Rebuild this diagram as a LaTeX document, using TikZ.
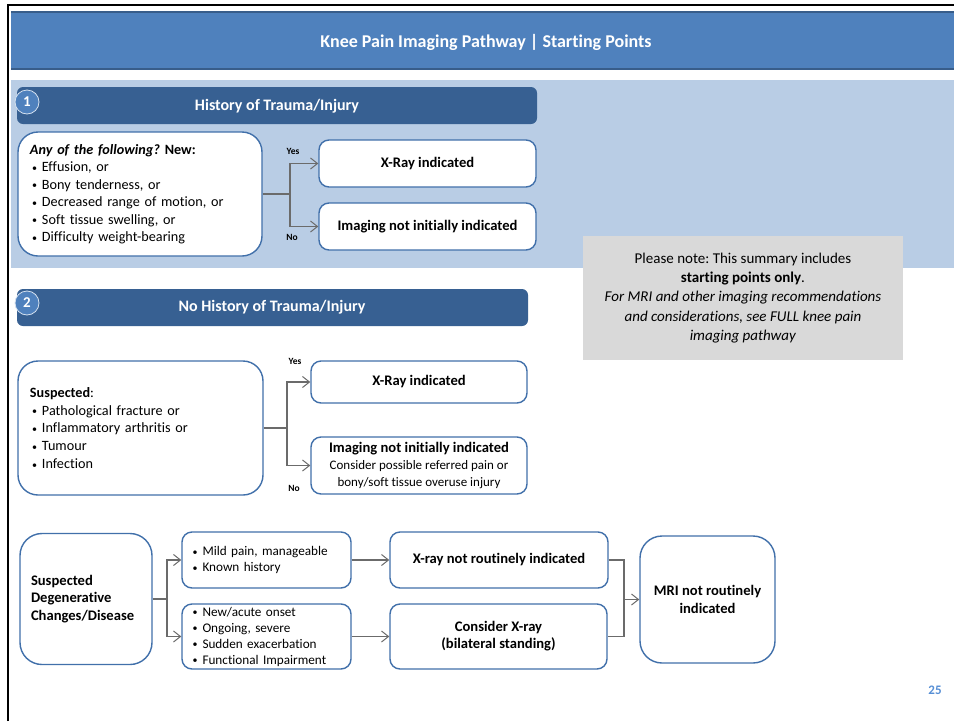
\documentclass[tikz,border=0pt]{standalone}
\usepackage{fontspec}
\setmainfont{Carlito}[Ligatures=NoCommon]
\usetikzlibrary{arrows.meta}
\frenchspacing

\definecolor{barblue}{HTML}{4F81BD}
\definecolor{baredge}{HTML}{385D8A}
\definecolor{secblue}{HTML}{376092}
\definecolor{bandblue}{HTML}{B9CDE5}
\definecolor{boxedge}{HTML}{4170AA}
\definecolor{linkgray}{HTML}{6B6B6B}
\definecolor{notegray}{HTML}{D9D9D9}
\definecolor{pagenum}{HTML}{558ED5}

\newcommand{\blt}{\makebox[10pt][l]{\raisebox{0.5pt}{\fontsize{10}{10}\selectfont•}}}
\newcommand{\smalltxt}{\fontsize{13}{15.5}\selectfont\mdseries}

\tikzset{
  box/.style={draw=boxedge, line width=1.4pt, fill=white, rounded corners=10pt,
    inner sep=0pt, align=center, font=\fontsize{14.6}{17}\selectfont\bfseries},
  bigbox/.style={draw=boxedge, line width=1.4pt, fill=white, rounded corners=20pt,
    inner xsep=12pt, inner ysep=0pt, align=left},
  secbar/.style={fill=secblue, rounded corners=6pt},
  sectitle/.style={text=white, font=\fontsize{16}{18}\selectfont\bfseries},
  numdot/.style={circle, fill=barblue, draw=bandblue!60!white, line width=0.8pt,
    minimum size=24pt, inner sep=0pt, text=white, font=\fontsize{15}{16}\selectfont\bfseries},
  link/.style={draw=linkgray, line width=1.2pt},
  arr/.style={link, -{Straight Barb[length=7pt,width=11pt,line width=1pt]}},
  yn/.style={font=\fontsize{9.5}{10}\selectfont\bfseries, inner sep=0pt},
}

\begin{document}
\begin{tikzpicture}[x=1pt, y=-1pt]
\useasboundingbox (0,0) rectangle (954,721);
\fill[white] (0,0) rectangle (954,721);

% page frame
\draw[black, line width=2pt] (8,721) -- (8,5) -- (954,5);

% title bar
\fill[barblue] (11,11) rectangle (954,70);
\draw[baredge, line width=2pt] (11,12) -- (954,12);
\draw[baredge, line width=2pt] (11,69) -- (954,69);
\node[text=white, font=\fontsize{18}{20}\selectfont\bfseries] (title) at (486,42)
  {Knee Pain Imaging Pathway | Starting Points};

% band behind section 1
\fill[bandblue] (11,80) rectangle (954,268);

% note box
\fill[notegray] (583,236) rectangle (903,360);
\node[align=center, font=\fontsize{15}{19.3}\selectfont] (note) at (743,298)
  {Please note: This summary includes\\
   \textbf{starting points only}.\\
   \textit{For MRI and other imaging recommendations}\\
   \textit{and considerations, see FULL knee pain}\\
   \textit{imaging pathway}};

% ---------- section 1: trauma ----------
\path[secbar] (17,87) rectangle (537,124);
\node[sectitle] (s1) at (277,106) {History of Trauma/Injury};
\node[numdot] (n1) at (27,102) {1};

\node[bigbox, minimum width=244pt, minimum height=124pt, text width=220pt,
      font=\fontsize{14.2}{17.5}\selectfont] (L1) at (140,194)
  {\textit{\textbf{Any of the following?}} \textbf{New:}\\
   \hspace{2pt}\blt Effusion, or\\
   \hspace{2pt}\blt Bony tenderness, or\\
   \hspace{2pt}\blt Decreased range of motion, or\\
   \hspace{2pt}\blt Soft tissue swelling, or\\
   \hspace{2pt}\blt Difficulty weight-bearing};

\node[box, minimum width=217pt, minimum height=47pt] (X1) at (427.5,163.5) {X-Ray indicated};
\node[box, minimum width=217pt, minimum height=47pt] (N1) at (427.5,226.5) {Imaging not initially indicated};

\coordinate (j1) at (290,194);
\draw[link] (L1.east) -- (j1);
\draw[arr] (j1) |- (X1.west);
\draw[arr] (j1) |- (N1.west);
\node[yn] (yes1) at (293,151) {Yes};
\node[yn] (no1) at (292,237) {No};

% ---------- section 2: no trauma ----------
\path[secbar] (17,289) rectangle (528,326);
\node[sectitle] (s2) at (272,307) {No History of Trauma/Injury};
\node[numdot] (n2) at (27,303) {2};

\node[bigbox, minimum width=245pt, minimum height=134pt, text width=221pt,
      font=\fontsize{14.2}{17.8}\selectfont] (L2) at (140.5,428)
  {\textbf{Suspected}:\\
   \hspace{2pt}\blt Pathological fracture or\\
   \hspace{2pt}\blt Inflammatory arthritis or\\
   \hspace{2pt}\blt Tumour\\
   \hspace{2pt}\blt Infection};

\node[box, minimum width=216pt, minimum height=42pt] (X2) at (419,382) {X-Ray indicated};
\node[box, minimum width=216pt, minimum height=57pt] (N2) at (419,465.5)
  {Imaging not initially indicated\\
   \smalltxt Consider possible referred pain or\\
   \smalltxt bony/soft tissue overuse injury};

\coordinate (j2) at (287,428);
\draw[link] (L2.east) -- (j2);
\draw[arr] (j2) |- (X2.west);
\draw[arr] (j2) |- (N2.west);
\node[yn] (yes2) at (295,361) {Yes};
\node[yn] (no2) at (294,488) {No};

% ---------- section 3: degenerative ----------
\node[bigbox, rounded corners=22pt, minimum width=130pt, minimum height=131pt,
      text width=110pt, inner xsep=11pt, font=\fontsize{14.6}{17.5}\selectfont\bfseries] (D) at (86,599)
  {Suspected\\ Degenerative\\ Changes/Disease};

\node[bigbox, rounded corners=10pt, minimum width=169pt, minimum height=56pt,
      text width=148pt, inner xsep=10pt, font=\fontsize{13.2}{16}\selectfont] (M1) at (266.5,560)
  {\blt Mild pain, manageable\\ \blt Known history};
\node[bigbox, rounded corners=10pt, minimum width=169pt, minimum height=65pt,
      text width=148pt, inner xsep=10pt, font=\fontsize{13.2}{16}\selectfont] (M2) at (266.5,636.5)
  {\blt New/acute onset\\ \blt Ongoing, severe\\ \blt Sudden exacerbation\\ \blt Functional Impairment};

\node[box, minimum width=218pt, minimum height=56pt] (XR1) at (499,560) {X-ray not routinely indicated};
\node[box, minimum width=217pt, minimum height=65pt, font=\fontsize{14.6}{17}\selectfont\bfseries] (XR2) at (498.5,636.5)
  {Consider X-ray\\ (bilateral standing)};

\node[box, rounded corners=22pt, minimum width=135pt, minimum height=127pt,
      font=\fontsize{14.6}{18}\selectfont\bfseries] (MRI) at (707.5,599.5)
  {MRI not routinely\\ indicated};

\coordinate (j3) at (167,599);
\draw[link] (D.east) -- (j3);
\draw[arr] (j3) |- (M1.west);
\draw[arr] (j3) |- (M2.west);
\draw[arr] (M1.east) -- (XR1.west);
\draw[arr] (M2.east) -- (XR2.west);

\coordinate (j4) at (624,599.5);
\draw[link] (XR1.east) -| (j4) |- (XR2.east);
\draw[arr] (j4) -- (MRI.west);

% page number
\node[text=pagenum, font=\fontsize{13}{14}\selectfont\bfseries] (pg) at (935,690) {25};

\end{tikzpicture}
\end{document}
